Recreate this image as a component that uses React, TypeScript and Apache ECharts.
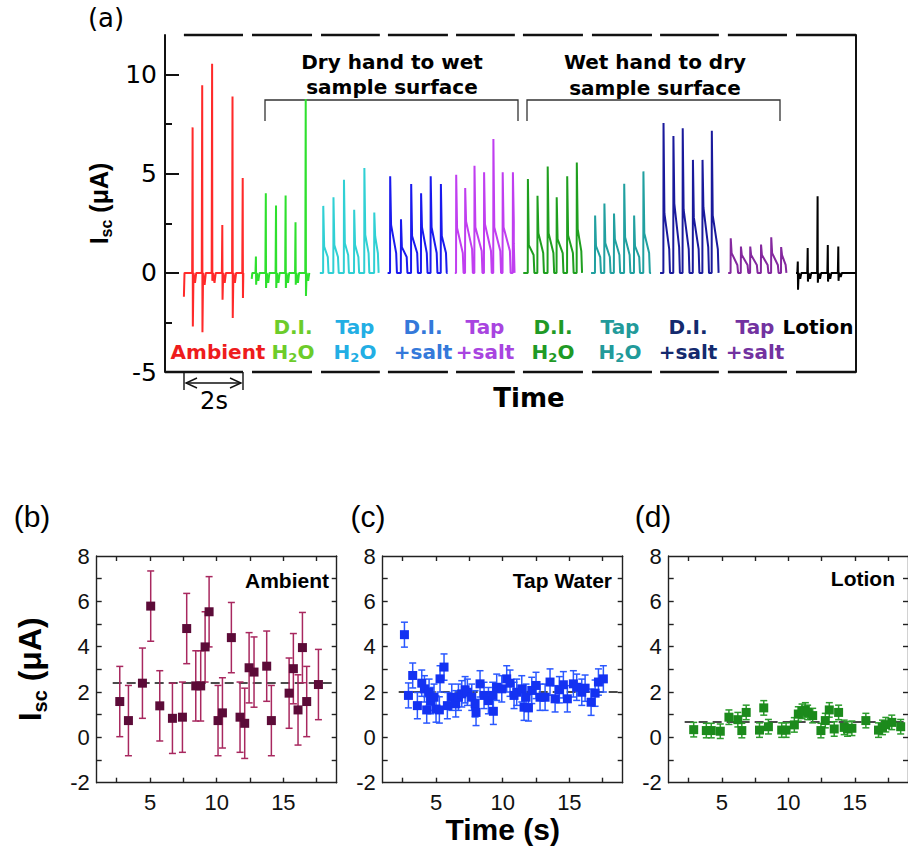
import React, { useEffect, useRef } from "react";
import * as echarts from "echarts";

// ---------------- Panel (a): current traces ----------------
const A_X_MIN = -0.63;
const A_X_MAX = 22.4;
const A_Y_MIN = -5;
const A_Y_MAX = 12;
const A_Y_LABELS = [-5, 0, 5, 10];
const A_Y_MINOR = [-2.5, 2.5, 7.5];

// 2-s windows (dashed frame pieces)
const SEG_START = [0, 2.27, 4.57, 6.8, 9.07, 11.3, 13.6, 15.87, 18.13, 20.4];
const SEG_END = [1.97, 4.27, 6.53, 8.8, 11.03, 13.3, 15.6, 17.83, 20.1, 22.4];

const TRACE_NAMES = [
  "Ambient", "Dry D.I. H2O", "Dry Tap H2O", "Dry D.I.+salt", "Dry Tap+salt",
  "Wet D.I. H2O", "Wet Tap H2O", "Wet D.I.+salt", "Wet Tap+salt", "Lotion",
];
const TRACE_COLORS = [
  "#ff2a2a", "#2ee02e", "#30d0d4", "#1a1aee", "#c03ef0",
  "#1f9f1f", "#21a0a0", "#1a1a9c", "#84289e", "#000000",
];
const TRACE_START = [0, 2.26, 4.53, 6.79, 9.03, 11.31, 13.57, 15.87, 18.14, 20.4];
const TRACE_END = [1.98, 4.2, 6.5, 8.79, 11.03, 13.29, 15.57, 17.84, 20.09, 22.4];
const TRACE_START_DIP = [-1.2, -0.3, 0, 0, 0, 0, 0, 0, 0, 0];

// spikes: [time, peak, dip, small after-dip]
const AMBIENT_SPIKES = [
  [0.29, 7.34, -2.7, -0.5], [0.61, 9.46, -3.0, -0.6], [0.94, 10.55, -0.4, -0.5],
  [1.28, 2.42, -1.35, -0.5], [1.62, 8.9, -2.27, -0.5], [1.96, 4.78, -1.27, 0],
];
const DI_DRY_SPIKES = [
  [2.4, 0.82, -0.6, -0.4], [2.73, 4.02, -0.76, -0.5], [3.07, 3.4, -0.76, -0.5],
  [3.39, 3.9, -0.76, -0.5], [3.72, 2.56, -0.6, -0.5], [4.06, 8.77, -1.16, -0.4],
];
const LOTION_SPIKES = [
  [20.46, 0.57, -0.85, -0.3], [20.79, 1.25, -0.44, -0.3], [21.12, 3.86, -0.5, -0.3],
  [21.46, 1.41, -0.44, -0.3], [21.81, 1.33, -0.4, -0.2],
];
// pulses: [rise time, peak, shoulder, tail, fall time]
const TAP_DRY_PULSES = [
  [4.64, 3.38, 1.33, 0.8, 4.82], [4.98, 3.82, 1.4, 0.8, 5.16], [5.33, 4.7, 1.5, 0.9, 5.5],
  [5.67, 3.18, 1.4, 0.8, 5.84], [6.01, 5.29, 1.92, 1.0, 6.18], [6.34, 3.05, 1.85, 1.0, 6.49],
];
const DI_SALT_DRY_PULSES = [
  [6.87, 4.87, 2.42, 1.0, 7.1], [7.23, 2.71, 1.3, 0.8, 7.45], [7.57, 4.48, 1.86, 1.0, 7.8],
  [7.9, 4.02, 2.3, 1.0, 8.12], [8.22, 4.87, 2.3, 1.0, 8.45], [8.56, 4.48, 1.86, 1.0, 8.76],
];
const TAP_SALT_DRY_PULSES = [
  [9.07, 4.95, 2.26, 1.0, 9.32], [9.37, 4.28, 2.6, 1.2, 9.63], [9.68, 5.4, 2.3, 1.1, 9.95],
  [10.0, 5.08, 2.45, 1.1, 10.26], [10.31, 6.75, 2.3, 1.1, 10.57], [10.62, 5.08, 2.3, 1.1, 10.89],
  [10.96, 5.08, 2.6, 1.5, 11.02],
];
const DI_WET_PULSES = [
  [11.46, 4.73, 1.4, 0.9, 11.68], [11.78, 3.89, 2.0, 1.0, 12.0], [12.12, 5.37, 2.0, 1.0, 12.34],
  [12.42, 3.81, 1.7, 1.0, 12.65], [12.77, 4.87, 1.9, 1.0, 12.99], [13.09, 5.57, 2.2, 1.1, 13.27],
];
const TAP_WET_PULSES = [
  [13.7, 2.89, 1.35, 0.8, 13.9], [14.01, 3.5, 1.5, 0.8, 14.22], [14.33, 3.0, 1.7, 0.9, 14.54],
  [14.67, 4.5, 1.8, 0.9, 14.88], [15.0, 2.89, 1.35, 0.8, 15.2], [15.31, 5.12, 2.0, 1.0, 15.53],
];
const DI_SALT_WET_PULSES = [
  [15.98, 7.56, 3.0, 1.2, 16.2], [16.31, 6.9, 3.5, 1.3, 16.53], [16.62, 7.3, 3.2, 1.2, 16.85],
  [16.96, 5.7, 2.8, 1.2, 17.18], [17.28, 5.7, 3.3, 1.3, 17.5], [17.59, 7.17, 2.9, 1.2, 17.82],
];
const TAP_SALT_WET_PULSES = [
  [18.22, 1.75, 1.0, 0.4, 18.47], [18.56, 1.33, 0.9, 0.4, 18.81], [18.87, 1.33, 0.9, 0.4, 19.12],
  [19.23, 1.43, 0.9, 0.4, 19.48], [19.57, 1.8, 1.0, 0.4, 19.82], [19.9, 1.3, 0.9, 0.4, 20.08],
];

const LABEL_LINE1 = ["", "D.I.", "Tap", "D.I.", "Tap", "D.I.", "Tap", "D.I.", "Tap", "Lotion"];
const LABEL_LINE2 = ["Ambient", "H2O", "H2O", "+salt", "+salt", "H2O", "H2O", "+salt", "+salt", ""];
const LABEL_COLORS = [
  "#ee1c1c", "#6ccc2a", "#22aee4", "#3479da", "#a844e0",
  "#1f9a26", "#229a9a", "#142a6e", "#7232a0", "#000000",
];

// ---------------- Panels (b)-(d): Isc vs time ----------------
const P_X_MIN = 1;
const P_X_MAX = 19;
const P_X_LABELS = [5, 10, 15];
const P_X_TICKS = [2.5, 5, 7.5, 10, 12.5, 15, 17.5];
const P_Y_MIN = -2;
const P_Y_MAX = 8;
const P_Y_TICKS = [-1, 0, 1, 2, 3, 4, 5, 6, 7];

// [time (s), Isc (uA), error]
const AMBIENT_POINTS = [
  [2.73, 1.58, 1.55], [3.38, 0.74, 1.55], [4.43, 2.39, 1.55], [5.05, 5.79, 1.55],
  [5.73, 1.39, 1.55], [6.68, 0.84, 1.55], [7.43, 0.89, 1.55], [7.75, 4.8, 1.55],
  [8.43, 2.27, 1.55], [8.8, 2.27, 1.55], [9.13, 3.99, 1.55], [9.43, 5.54, 1.55],
  [10.1, 0.74, 1.55], [10.43, 1.08, 1.55], [11.1, 4.4, 1.55], [11.75, 0.89, 1.55],
  [12.1, 0.62, 1.55], [12.43, 3.07, 1.55], [12.8, 2.88, 1.55], [13.75, 3.14, 1.55],
  [14.1, 0.74, 1.55], [15.43, 1.95, 1.55], [15.75, 3.03, 1.55], [16.1, 1.21, 1.55],
  [16.43, 3.96, 1.55], [16.75, 1.58, 1.55], [17.63, 2.33, 1.55],
];
const TAP_POINTS = [
  [2.63, 4.53, 0.55], [2.93, 1.85, 0.55], [3.25, 2.73, 0.55], [3.6, 1.4, 0.58],
  [3.93, 2.39, 0.58], [4.13, 2.14, 0.58], [4.3, 1.21, 0.58], [4.48, 1.99, 0.58],
  [4.6, 1.62, 0.58], [4.85, 1.77, 0.58], [5.0, 1.25, 0.58], [5.25, 1.21, 0.58],
  [5.3, 2.58, 0.58], [5.6, 3.1, 0.58], [5.85, 1.4, 0.58], [6.18, 1.77, 0.58],
  [6.48, 1.48, 0.58], [6.68, 1.77, 0.58], [6.93, 1.92, 0.58], [7.18, 2.1, 0.58],
  [7.35, 1.99, 0.58], [7.68, 1.77, 0.58], [7.93, 1.48, 0.58], [8.0, 1.1, 0.58],
  [8.3, 2.36, 0.58], [8.6, 1.85, 0.58], [8.93, 1.62, 0.58], [9.25, 1.85, 0.58],
  [9.3, 1.15, 0.58], [9.55, 2.21, 0.58], [9.93, 2.14, 0.58], [10.3, 2.58, 0.58],
  [10.55, 2.39, 0.58], [10.85, 1.85, 0.58], [11.05, 1.99, 0.58], [11.43, 2.14, 0.58],
  [11.6, 1.33, 0.58], [11.75, 1.77, 0.58], [11.93, 1.3, 0.58], [12.18, 2.07, 0.58],
  [12.5, 2.29, 0.58], [12.8, 1.77, 0.58], [13.18, 1.77, 0.58], [13.55, 2.44, 0.58],
  [13.93, 1.7, 0.58], [14.25, 2.1, 0.58], [14.55, 2.32, 0.58], [14.85, 1.7, 0.58],
  [15.3, 2.36, 0.58], [15.55, 2.21, 0.58], [15.93, 1.99, 0.58], [16.18, 2.17, 0.58],
  [16.63, 1.55, 0.58], [16.93, 1.95, 0.58], [17.18, 2.44, 0.58], [17.55, 2.58, 0.58],
];
const LOTION_POINTS = [
  [2.88, 0.34, 0.32], [3.83, 0.3, 0.32], [4.2, 0.3, 0.32], [4.88, 0.27, 0.32],
  [5.53, 0.89, 0.32], [6.2, 0.78, 0.32], [6.5, 0.3, 0.32], [6.83, 1.1, 0.32],
  [7.83, 0.32, 0.32], [8.15, 1.3, 0.32], [8.5, 0.47, 0.32], [9.5, 0.32, 0.32],
  [9.83, 0.32, 0.32], [10.45, 0.55, 0.32], [10.75, 1.03, 0.32], [11.03, 1.15, 0.32],
  [11.28, 1.21, 0.32], [11.45, 1.1, 0.32], [11.83, 0.96, 0.32], [12.45, 0.3, 0.32],
  [12.78, 0.74, 0.32], [13.08, 1.21, 0.32], [13.45, 0.37, 0.32], [13.78, 1.1, 0.32],
  [14.2, 0.44, 0.32], [14.45, 0.37, 0.32], [14.78, 0.4, 0.32], [15.83, 0.74, 0.32],
  [16.78, 0.32, 0.32], [17.08, 0.44, 0.32], [17.33, 0.56, 0.32], [17.78, 0.66, 0.32],
  [18.45, 0.47, 0.32],
];
const PANEL_MEANS = [2.4, 2.0, 0.68];
const MEAN_FROM = 2.2;
const PANEL_NAMES = ["Ambient", "Tap Water", "Lotion"];
const PANEL_SQUARE = ["#5c0b38", "#1432f2", "#1c8a1c"];
const PANEL_ERROR = ["#a8285f", "#2a58ff", "#2c9c2c"];

// ---------------- builders ----------------
function spikeTrace(start: number, end: number, spikes: number[][], startDip: number) {
  const pts: number[][] = [[start, startDip], [start + 0.02, 0]];
  for (const [t, peak, dip, after] of spikes) {
    pts.push([t - 0.015, 0], [t, peak], [t + 0.008, dip], [t + 0.03, 0], [t + 0.08, after], [t + 0.12, 0]);
  }
  const out = pts.filter((p) => p[0] <= end);
  out.push([end, 0]);
  return out;
}
function pulseTrace(start: number, end: number, pulses: number[][]) {
  const pts: number[][] = [[start, 0]];
  for (const [tR, peak, sh, tail, tF] of pulses) {
    pts.push([tR, 0], [tR + 0.005, peak], [tR + 0.035, sh], [tF - 0.025, tail], [tF, 0]);
  }
  pts.push([end, 0]);
  return pts;
}

const TRACE_SOURCES: any[] = [
  AMBIENT_SPIKES, DI_DRY_SPIKES, TAP_DRY_PULSES, DI_SALT_DRY_PULSES, TAP_SALT_DRY_PULSES,
  DI_WET_PULSES, TAP_WET_PULSES, DI_SALT_WET_PULSES, TAP_SALT_WET_PULSES, LOTION_SPIKES,
];
const SPIKE_KIND = [true, true, false, false, false, false, false, false, false, true];

const LABEL_X = [218, 293, 355, 423, 485, 553, 620, 688, 755, 818];

function richLabel(s: string) {
  return s.replace("H2O", "{m|H}{s|2}{m|O}").replace(/^(D\.I\.|Tap|\+salt|Ambient|Lotion)$/, "{m|$1}");
}

function buildOption() {
  const axisColor = "#111";
  const xAxes: any[] = [
    { gridIndex: 0, type: "value", min: A_X_MIN, max: A_X_MAX, show: false },
  ];
  const yAxes: any[] = [
    {
      gridIndex: 0, type: "value", min: A_Y_MIN, max: A_Y_MAX, position: "left",
      axisLine: { show: true, onZero: false, lineStyle: { color: axisColor, width: 2 } },
      axisTick: { show: true, inside: true, length: 14, customValues: A_Y_LABELS, lineStyle: { color: axisColor, width: 2 } },
      axisLabel: { customValues: A_Y_LABELS, fontSize: 25, fontFamily: "DejaVu Sans", color: "#000", margin: 8 },
      splitLine: { show: false },
      name: "{i|I}{s|sc}{i| (μA)}", nameLocation: "middle", nameGap: 37,
      nameTextStyle: {
        rich: {
          i: { fontSize: 25, fontWeight: "bold", fontFamily: "Liberation Sans", color: "#000", lineHeight: 30 },
          s: { fontSize: 16, fontWeight: "bold", fontFamily: "Liberation Sans", color: "#000", lineHeight: 15, verticalAlign: "bottom" },
        },
      },
    },
    {
      gridIndex: 0, type: "value", min: A_Y_MIN, max: A_Y_MAX, position: "left",
      axisLine: { show: false, onZero: false },
      axisTick: { show: true, inside: true, length: 7, customValues: A_Y_MINOR, lineStyle: { color: axisColor, width: 2 } },
      axisLabel: { show: false }, splitLine: { show: false },
    },
    {
      gridIndex: 0, type: "value", min: A_Y_MIN, max: A_Y_MAX, position: "right",
      axisLine: { show: true, onZero: false, lineStyle: { color: axisColor, width: 2 } },
      axisTick: { show: false }, axisLabel: { show: false }, splitLine: { show: false },
    },
  ];
  const grids: any[] = [{ left: 165, top: 35, width: 691, height: 337 }];
  const panelLefts = [96.7, 382.7, 668.7];
  const panelLine = { color: "#222", width: 1.4 };
  panelLefts.forEach((left, k) => {
    const g = k + 1;
    grids.push({ left, top: 556, width: 240, height: 226.7 });
    xAxes.push({
      gridIndex: g, type: "value", min: P_X_MIN, max: P_X_MAX, position: "bottom",
      axisLine: { show: true, onZero: false, lineStyle: panelLine },
      axisTick: { show: true, inside: true, length: 5, customValues: P_X_TICKS, lineStyle: panelLine },
      axisLabel: { customValues: P_X_LABELS, fontSize: 22, fontFamily: "Liberation Sans", color: "#111", margin: 9 },
      splitLine: { show: false },
      ...(k === 1
        ? {
            name: "Time (s)", nameLocation: "middle", nameGap: 26,
            nameTextStyle: { fontSize: 30, fontWeight: "bold", fontFamily: "Liberation Sans", color: "#000" },
          }
        : {}),
    });
    xAxes.push({
      gridIndex: g, type: "value", min: P_X_MIN, max: P_X_MAX, position: "top",
      axisLine: { show: true, onZero: false, lineStyle: panelLine },
      axisTick: { show: true, inside: true, length: 5, customValues: P_X_TICKS, lineStyle: panelLine },
      axisLabel: { show: false }, splitLine: { show: false },
    });
    yAxes.push({
      gridIndex: g, type: "value", min: P_Y_MIN, max: P_Y_MAX, interval: 2, position: "left",
      axisLine: { show: true, onZero: false, lineStyle: panelLine },
      axisTick: { show: true, inside: true, length: 5, customValues: P_Y_TICKS, lineStyle: panelLine },
      axisLabel: { fontSize: 22, fontFamily: "Liberation Sans", color: "#111", margin: 7 },
      splitLine: { show: false },
      ...(k === 0
        ? {
            name: "{i|I}{s|sc}{i| (μA)}", nameLocation: "middle", nameGap: 47,
            nameTextStyle: {
              rich: {
                i: { fontSize: 32, fontWeight: "bold", fontFamily: "Liberation Sans", color: "#000", lineHeight: 40 },
                s: { fontSize: 20, fontWeight: "bold", fontFamily: "Liberation Sans", color: "#000", lineHeight: 20, verticalAlign: "bottom" },
              },
            },
          }
        : {}),
    });
    yAxes.push({
      gridIndex: g, type: "value", min: P_Y_MIN, max: P_Y_MAX, interval: 2, position: "right",
      axisLine: { show: true, onZero: false, lineStyle: panelLine },
      axisTick: { show: true, inside: true, length: 5, customValues: P_Y_TICKS, lineStyle: panelLine },
      axisLabel: { show: false }, splitLine: { show: false },
    });
  });

  const series: any[] = [];
  // frame dashes for panel (a)
  const dashData: any[] = [];
  SEG_START.forEach((s, i) => {
    dashData.push({ coords: [[s, A_Y_MAX], [SEG_END[i], A_Y_MAX]] });
    dashData.push({ coords: [[i === 0 ? A_X_MIN : s, A_Y_MIN], [SEG_END[i], A_Y_MIN]] });
  });
  series.push({
    type: "lines", coordinateSystem: "cartesian2d", xAxisIndex: 0, yAxisIndex: 0,
    data: dashData, clip: false, silent: true,
    lineStyle: { color: "#111", width: 2.4, opacity: 1 },
  });
  TRACE_NAMES.forEach((name, i) => {
    const data = SPIKE_KIND[i]
      ? spikeTrace(TRACE_START[i], TRACE_END[i], TRACE_SOURCES[i], TRACE_START_DIP[i])
      : pulseTrace(TRACE_START[i], TRACE_END[i], TRACE_SOURCES[i]);
    series.push({
      type: "line", name, xAxisIndex: 0, yAxisIndex: 0, data,
      showSymbol: false, symbol: "none",
      lineStyle: { color: TRACE_COLORS[i], width: 2 },
      itemStyle: { color: TRACE_COLORS[i] },
    });
  });

  const panelData = [AMBIENT_POINTS, TAP_POINTS, LOTION_POINTS];
  panelData.forEach((pts, k) => {
    const xi = 1 + 2 * k;
    const yi = 3 + 2 * k;
    const errColor = PANEL_ERROR[k];
    series.push({
      type: "line", xAxisIndex: xi, yAxisIndex: yi, name: PANEL_NAMES[k] + " mean",
      data: [[MEAN_FROM, PANEL_MEANS[k]], [P_X_MAX, PANEL_MEANS[k]]],
      showSymbol: false, symbol: "none", silent: true,
      lineStyle: { color: "#111", width: 1.6, type: [9, 5] },
      z: 1,
    });
    series.push({
      type: "custom", xAxisIndex: xi, yAxisIndex: yi, name: PANEL_NAMES[k] + " error",
      data: pts, encode: { x: 0, y: 1 }, z: 2,
      renderItem: (params: any, api: any) => {
        const x = api.value(0), y = api.value(1), e = api.value(2);
        const top = api.coord([x, y + e]);
        const bot = api.coord([x, y - e]);
        const hw = 3.5;
        const st = { stroke: errColor, lineWidth: 1.5 };
        return {
          type: "group",
          children: [
            { type: "line", shape: { x1: top[0], y1: top[1], x2: bot[0], y2: bot[1] }, style: st },
            { type: "line", shape: { x1: top[0] - hw, y1: top[1], x2: top[0] + hw, y2: top[1] }, style: st },
            { type: "line", shape: { x1: bot[0] - hw, y1: bot[1], x2: bot[0] + hw, y2: bot[1] }, style: st },
          ],
        };
      },
    });
    series.push({
      type: "scatter", xAxisIndex: xi, yAxisIndex: yi, name: PANEL_NAMES[k],
      data: pts.map((p) => [p[0], p[1]]), symbol: "rect", symbolSize: 9, z: 3,
      itemStyle: { color: PANEL_SQUARE[k], opacity: 1 },
    });
  });

  // ---------- annotations ----------
  const graphic: any[] = [];
  const txt = (text: string, x: number, y: number, size: number, opts: any = {}) => ({
    type: "text", x, y, silent: true,
    style: {
      text, fontSize: size, fontFamily: opts.family || "DejaVu Sans", fontWeight: opts.weight || "normal",
      fill: opts.color || "#000", align: opts.align || "center", verticalAlign: "middle",
      rich: opts.rich,
    },
  });
  graphic.push(txt("(a)", 106, 18, 26));
  graphic.push(txt("(b)", 32, 516, 30, { family: "Liberation Sans" }));
  graphic.push(txt("(c)", 368, 516, 30, { family: "Liberation Sans" }));
  graphic.push(txt("(d)", 653, 516, 30, { family: "Liberation Sans" }));
  graphic.push(txt("Dry hand to wet", 392, 62, 20, { weight: "bold" }));
  graphic.push(txt("sample surface", 392, 87, 20, { weight: "bold" }));
  graphic.push(txt("Wet hand to dry", 655, 62, 20, { weight: "bold" }));
  graphic.push(txt("sample surface", 655, 88, 20, { weight: "bold" }));
  const bracketStyle = { stroke: "#333", lineWidth: 1.3, fill: null };
  graphic.push({ type: "polyline", silent: true, shape: { points: [[265, 121], [265, 100], [518, 100], [518, 121]] }, style: bracketStyle });
  graphic.push({ type: "polyline", silent: true, shape: { points: [[527, 121], [527, 100], [780, 100], [780, 121]] }, style: bracketStyle });
  LABEL_LINE1.forEach((l1, i) => {
    const color = LABEL_COLORS[i];
    const rich = {
      m: { fontSize: 20, fontWeight: "bold", fontFamily: "DejaVu Sans", fill: color, color, lineHeight: 24 },
      s: { fontSize: 13, fontWeight: "bold", fontFamily: "DejaVu Sans", fill: color, color, lineHeight: 13, verticalAlign: "bottom" },
    };
    if (l1) graphic.push(txt(richLabel(l1), LABEL_X[i], 327, 20, { weight: "bold", color, rich }));
    const l2 = LABEL_LINE2[i];
    if (l2) graphic.push(txt(richLabel(l2), LABEL_X[i], 352, 20, { weight: "bold", color, rich }));
  });
  graphic.push(txt("Time", 529, 398, 26, { weight: "bold" }));
  // 2 s scale bar
  const barStyle = { stroke: "#111", lineWidth: 1.4, fill: null };
  graphic.push({ type: "line", silent: true, shape: { x1: 184, y1: 372, x2: 184, y2: 390 }, style: barStyle });
  graphic.push({ type: "line", silent: true, shape: { x1: 243, y1: 372, x2: 243, y2: 390 }, style: barStyle });
  graphic.push({ type: "line", silent: true, shape: { x1: 186, y1: 383, x2: 241, y2: 383 }, style: barStyle });
  graphic.push({ type: "polyline", silent: true, shape: { points: [[197, 378], [186, 383], [197, 388]] }, style: barStyle });
  graphic.push({ type: "polyline", silent: true, shape: { points: [[230, 378], [241, 383], [230, 388]] }, style: barStyle });
  graphic.push(txt("2s", 214, 401, 24));
  // panel inner labels
  graphic.push(txt("Ambient", 329, 580, 21, { family: "Liberation Sans", weight: "bold", align: "right" }));
  graphic.push(txt("Tap Water", 612, 580, 21, { family: "Liberation Sans", weight: "bold", align: "right" }));
  graphic.push(txt("Lotion", 895, 578, 21, { family: "Liberation Sans", weight: "bold", align: "right" }));

  return {
    animation: false,
    backgroundColor: "#ffffff",
    grid: grids,
    xAxis: xAxes,
    yAxis: yAxes,
    series,
    graphic,
  };
}

export default function App() {
  const ref = useRef<HTMLDivElement>(null);
  useEffect(() => {
    if (!ref.current) return;
    const chart = echarts.init(ref.current, null, { renderer: "svg" });
    chart.setOption(buildOption() as any);
    return () => chart.dispose();
  }, []);
  return (
    <div
      ref={ref}
      style={{ position: "absolute", left: 0, top: 0, width: 908, height: 850, background: "#fff" }}
    />
  );
}
